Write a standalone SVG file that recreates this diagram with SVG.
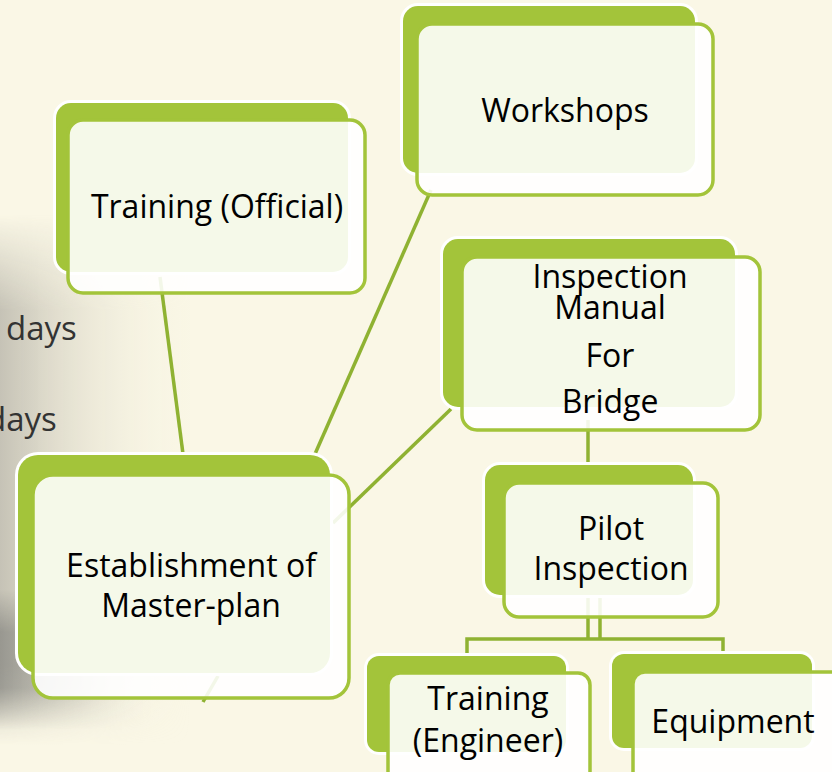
<svg xmlns="http://www.w3.org/2000/svg" width="832" height="772" viewBox="0 0 832 772">
<defs>
<linearGradient id="gH" x1="0" y1="0" x2="1" y2="0">
<stop offset="0" stop-color="#b4b1a6" stop-opacity="0.75"/>
<stop offset="0.4" stop-color="#d2cebf" stop-opacity="0.45"/>
<stop offset="1" stop-color="#faf7e6" stop-opacity="0"/>
</linearGradient>
<linearGradient id="gBand" x1="0" y1="0" x2="1" y2="0">
<stop offset="0" stop-color="#858580" stop-opacity="0.7"/>
<stop offset="0.5" stop-color="#a3a29a" stop-opacity="0.35"/>
<stop offset="1" stop-color="#faf7e6" stop-opacity="0"/>
</linearGradient>
<linearGradient id="gV" x1="0" y1="0" x2="0" y2="1">
<stop offset="0" stop-color="#fff" stop-opacity="0"/>
<stop offset="0.18" stop-color="#fff" stop-opacity="1"/>
<stop offset="0.85" stop-color="#fff" stop-opacity="1"/>
<stop offset="1" stop-color="#fff" stop-opacity="0"/>
</linearGradient>
<linearGradient id="gV2" x1="0" y1="0" x2="0" y2="1">
<stop offset="0" stop-color="#fff" stop-opacity="0"/>
<stop offset="0.3" stop-color="#fff" stop-opacity="1"/>
<stop offset="0.7" stop-color="#fff" stop-opacity="1"/>
<stop offset="1" stop-color="#fff" stop-opacity="0"/>
</linearGradient>
<mask id="mV" maskUnits="userSpaceOnUse" x="0" y="0" width="832" height="772">
<rect x="0" y="215" width="200" height="530" fill="url(#gV)"/>
</mask>
<mask id="mV2" maskUnits="userSpaceOnUse" x="0" y="0" width="832" height="772">
<rect x="0" y="590" width="200" height="140" fill="url(#gV2)"/>
</mask>
<style>
.back{fill:#a3c43a;stroke:#ffffff;stroke-width:6;paint-order:stroke}
.front{fill:#ffffff;fill-opacity:0.89;stroke:#a3c43a;stroke-width:3.5}
.lbl{font-family:"Open Sans","Noto Sans","Liberation Sans",sans-serif;font-size:32px;fill:#000;text-anchor:middle}
.con line, .con path{stroke:#8fb232;stroke-width:3.5;fill:none}
.bgtxt{font-family:"Open Sans","Noto Sans","Liberation Sans",sans-serif;font-size:33px;fill:#333}
</style>
</defs>
<rect width="832" height="772" fill="#faf7e6"/>
<g id="background">
<rect x="0" y="215" width="190" height="530" fill="url(#gH)" mask="url(#mV)"/>
<rect x="0" y="590" width="160" height="140" fill="url(#gBand)" mask="url(#mV2)"/>
<text class="bgtxt" x="6" y="340">days</text>
<text class="bgtxt" x="-14" y="431">days</text>
</g>
<g id="connectors" class="con">
<line x1="160" y1="277" x2="183" y2="454"/>
<line x1="431" y1="190" x2="315" y2="454"/>
<line x1="451" y1="409" x2="333" y2="523"/>
<line x1="588" y1="420" x2="588" y2="467"/>
<line x1="588" y1="597" x2="588" y2="639"/>
<line x1="600" y1="597" x2="600" y2="639"/>
<path d="M467 658 V639 H723 V656"/>
<line x1="203" y1="702" x2="218" y2="676"/>
</g>
<g id="node-training-official">
<rect class="back" x="56" y="103" width="292" height="169" rx="15"/>
<rect class="front" x="68" y="120" width="297" height="173" rx="15"/>
<text class="lbl" x="217" y="218">Training (Official)</text>
</g>
<g id="node-workshops">
<rect class="back" x="403" y="6" width="292" height="167" rx="15"/>
<rect class="front" x="417" y="24" width="296" height="171" rx="15"/>
<text class="lbl" x="565" y="122">Workshops</text>
</g>
<g id="node-inspection-manual">
<rect class="back" x="443" y="239" width="292" height="168" rx="15"/>
<rect class="front" x="462" y="257" width="298" height="173" rx="15"/>
<text class="lbl" x="610" y="288">Inspection</text>
<text class="lbl" x="610" y="319">Manual</text>
<text class="lbl" x="610" y="367">For</text>
<text class="lbl" x="610" y="413">Bridge</text>
</g>
<g id="node-establishment">
<rect class="back" x="18" y="455" width="312" height="218" rx="20"/>
<rect class="front" x="33" y="475" width="316" height="223" rx="20"/>
<text class="lbl" x="191" y="577">Establishment of</text>
<text class="lbl" x="191" y="617">Master-plan</text>
</g>
<g id="node-pilot-inspection">
<rect class="back" x="485" y="465" width="208" height="130" rx="15"/>
<rect class="front" x="504" y="483" width="214" height="134" rx="15"/>
<text class="lbl" x="611" y="540">Pilot</text>
<text class="lbl" x="611" y="580">Inspection</text>
</g>
<g id="node-training-engineer">
<rect class="back" x="367" y="656" width="199" height="96" rx="12"/>
<rect class="front" x="388" y="673" width="202" height="120" rx="12"/>
<text class="lbl" x="488" y="710">Training</text>
<text class="lbl" x="488" y="752">(Engineer)</text>
</g>
<g id="node-equipment">
<rect class="back" x="612" y="654" width="200" height="94" rx="12"/>
<rect class="front" x="633" y="672" width="215" height="120" rx="12"/>
<text class="lbl" x="733" y="733">Equipment</text>
</g>
</svg>
